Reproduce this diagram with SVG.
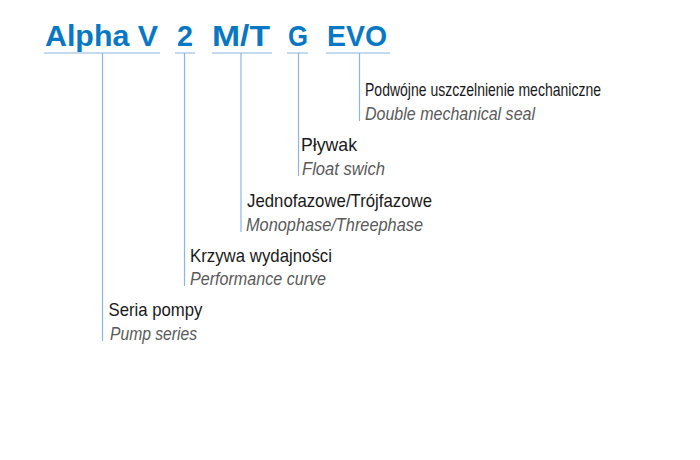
<svg xmlns="http://www.w3.org/2000/svg" width="700" height="460" viewBox="0 0 700 460">
<style>
.code{font-family:"Liberation Sans",Arial,sans-serif;font-weight:bold;font-size:30px;fill:#0878c4}
.pl{font-family:"Liberation Sans Narrow","Liberation Sans",Arial,sans-serif;font-size:19px;fill:#1a1a1a}
.en{font-family:"Liberation Sans Narrow","Liberation Sans",Arial,sans-serif;font-size:19px;font-style:italic;fill:#5a5a5a}
.ln{stroke:#8ab6e0;stroke-width:1.2;fill:none}
</style>
<rect width="700" height="460" fill="#ffffff"/>
<g id="code">
<text class="code" x="45" y="45.5" textLength="113" lengthAdjust="spacingAndGlyphs">Alpha V</text>
<text class="code" x="177" y="45.5" textLength="16" lengthAdjust="spacingAndGlyphs">2</text>
<text class="code" x="212" y="45.5" textLength="58" lengthAdjust="spacingAndGlyphs">M/T</text>
<text class="code" x="288" y="45.5" textLength="20" lengthAdjust="spacingAndGlyphs">G</text>
<text class="code" x="327" y="45.5" textLength="60" lengthAdjust="spacingAndGlyphs">EVO</text>
</g>
<g id="connectors">
<path class="ln" d="M44 53H160M175 53H195M212 53H272M287 53H308M326 53H390"/>
<path class="ln" d="M102.5 53V341"/>
<path class="ln" d="M184.5 53V286"/>
<path class="ln" d="M241 53V232"/>
<path class="ln" d="M298.5 53V176"/>
<path class="ln" d="M359.5 53V121"/>
</g>
<g id="node-evo">
<text class="pl" x="365" y="96" textLength="236" lengthAdjust="spacingAndGlyphs">Podwójne uszczelnienie mechaniczne</text>
<text class="en" x="365" y="120" textLength="170" lengthAdjust="spacingAndGlyphs">Double mechanical seal</text>
</g>
<g id="node-g">
<text class="pl" x="301" y="151" textLength="56" lengthAdjust="spacingAndGlyphs">Pływak</text>
<text class="en" x="302" y="175" textLength="83" lengthAdjust="spacingAndGlyphs">Float swich</text>
</g>
<g id="node-mt">
<text class="pl" x="247" y="207" textLength="185" lengthAdjust="spacingAndGlyphs">Jednofazowe/Trójfazowe</text>
<text class="en" x="246" y="231" textLength="177" lengthAdjust="spacingAndGlyphs">Monophase/Threephase</text>
</g>
<g id="node-2">
<text class="pl" x="190" y="262" textLength="142" lengthAdjust="spacingAndGlyphs">Krzywa wydajności</text>
<text class="en" x="190" y="285" textLength="136" lengthAdjust="spacingAndGlyphs">Performance curve</text>
</g>
<g id="node-alpha">
<text class="pl" x="108.5" y="316" textLength="94" lengthAdjust="spacingAndGlyphs">Seria pompy</text>
<text class="en" x="110" y="340" textLength="87" lengthAdjust="spacingAndGlyphs">Pump series</text>
</g>
</svg>
